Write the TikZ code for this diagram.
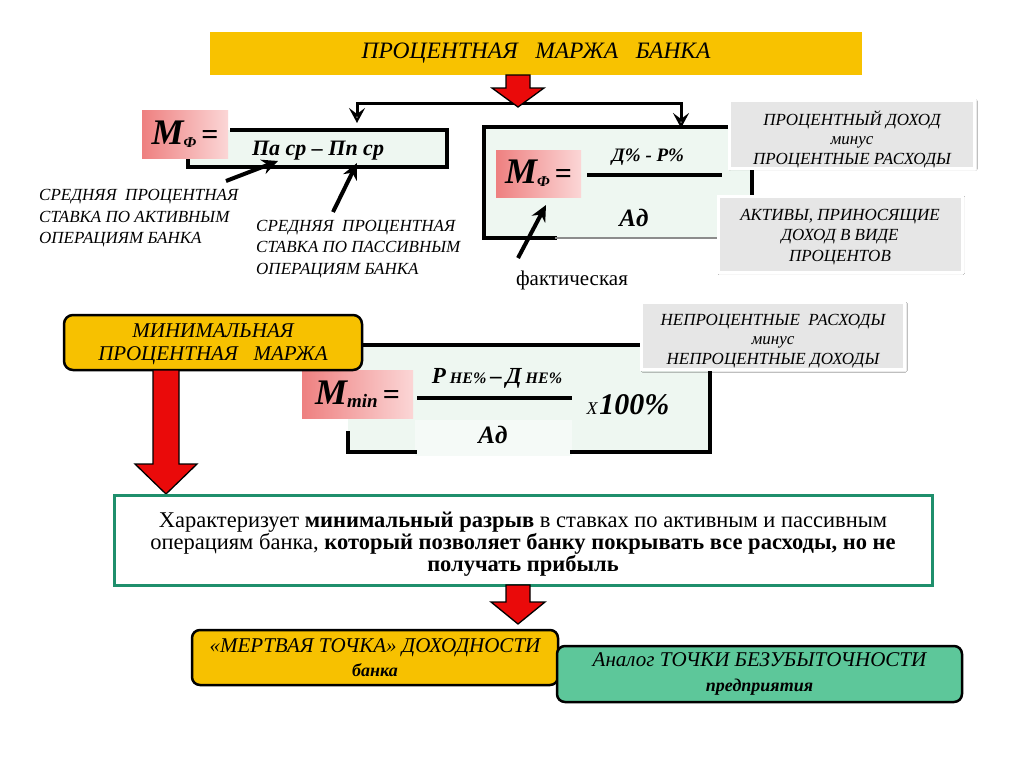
\documentclass[tikz,border=0pt]{standalone}
\usepackage{fontspec}
\setmainfont{Liberation Serif}
\usetikzlibrary{arrows.meta,shadows.blur,calc}
\definecolor{ttl}{HTML}{F8C200}
\definecolor{org}{HTML}{F7C100}
\definecolor{mint}{HTML}{5DC79A}
\definecolor{pale}{HTML}{EEF7F1}
\definecolor{paler}{HTML}{F5FAF7}
\definecolor{tealb}{HTML}{1F8F6C}
\definecolor{pinkL}{HTML}{EE8080}
\definecolor{pinkR}{HTML}{FBD6D6}
\definecolor{arrred}{HTML}{EA0A0A}
\definecolor{grayb}{HTML}{E6E6E6}
\newcommand\fsz[2]{\fontsize{#1}{#2}\selectfont}
% block arrow: x centre, y top, y tip, shaft half, head half, head length
\newcommand\blockarrow[6]{%
  \draw[fill=arrred,draw=black,line width=1.3pt,line join=miter]
    (#1-#4,#2) -- (#1+#4,#2) -- (#1+#4,#3-#6) -- (#1+#5,#3-#6) -- (#1,#3)
    -- (#1-#5,#3-#6) -- (#1-#4,#3-#6) -- cycle;}
\tikzset{
  frame/.style={line width=3.5pt,line cap=rect},
  pinklabel/.style={left color=pinkL,right color=pinkR,inner sep=0pt},
  graybox/.style={fill=grayb,draw=white,line width=3pt,
    blur shadow={shadow xshift=1pt,shadow yshift=-1pt,shadow blur steps=6,shadow opacity=35},
    inner sep=0pt},
  graytext/.style={align=center,inner sep=0pt,font=\fsz{17}{19.5}\itshape},
  note/.style={inner sep=0pt,align=left,font=\fsz{17}{21.5}\itshape},
  pointer/.style={line width=4pt,-{Stealth[length=16pt,width=15pt]}},
  bracket/.style={line width=3pt},
  vtip/.style={line width=3pt,-{Stealth[length=15pt,width=16pt,inset=6pt,open,fill=white,line width=2.5pt]}},
  fbold/.style={inner sep=0pt,font=\bfseries\itshape}
}
\begin{document}
\begin{tikzpicture}[x=1pt,y=-1pt]
\useasboundingbox (0,0) rectangle (1024,768);
\fill[white] (0,0) rectangle (1024,768);

% title
\node[fill=ttl,minimum width=652,minimum height=43,inner sep=0pt,
      font=\fsz{23.5}{25}\itshape] (title) at (536,53.5) {ПРОЦЕНТНАЯ~~~МАРЖА~~~БАНКА};

% bracket
\coordinate (bl) at (357,103);
\coordinate (brr) at (681,103);
\coordinate (bla) at (357,123);
\coordinate (bra) at (681,128);
\draw[bracket] (bla) ++(0,-12) -- (bl) -- (brr) -- ++(0,12);
\draw[vtip] (bl) -- (bla);
\draw[vtip] (brr) -- (bra);
\blockarrow{518}{75}{107}{12}{26}{19}

% left formula box
\fill[pale] (188,130) rectangle (447,167);
\draw[frame] (232,130) -- (447,130) -- (447,167) -- (188,167) -- (188,161);
\node[pinklabel,minimum width=86,minimum height=48] (lm) at (185,134)
  {{\fsz{36}{38}\bfseries\itshape M}\raisebox{-3pt}{\fsz{15}{15}\bfseries\itshape Ф}{\fsz{30}{32}\bfseries\,=}};
\node[fbold,font=\fsz{22}{24}\bfseries\itshape] (lnum) at (318,151) {Па ср – Пп ср};

\node[note,anchor=west] (t1) at (39,218.5) {СРЕДНЯЯ~~ПРОЦЕНТНАЯ\\СТАВКА ПО АКТИВНЫМ\\ОПЕРАЦИЯМ БАНКА};
\node[note,anchor=west] (t2) at (256,249) {СРЕДНЯЯ~~ПРОЦЕНТНАЯ\\СТАВКА ПО ПАССИВНЫМ\\ОПЕРАЦИЯМ БАНКА};
\coordinate (p1s) at (226,181);
\coordinate (p1e) at (278,161);
\coordinate (p2s) at (333,212);
\coordinate (p2e) at (357,163);
\draw[pointer] (p1s) -- (p1e);
\draw[pointer] (p2s) -- (p2e);

% right formula box
\fill[pale] (484,127) rectangle (752,238);
\draw[frame] (484,238) -- (484,127) -- (752,127) -- (752,238);
\draw[frame] (484,238) -- (555,238);
\draw[line width=2pt,black!45] (555,238) -- (752,238);
\node[pinklabel,minimum width=85,minimum height=47] (rm) at (538.5,173.5)
  {{\fsz{36}{38}\bfseries\itshape M}\raisebox{-3pt}{\fsz{15}{15}\bfseries\itshape Ф}{\fsz{30}{32}\bfseries\,=}};
\node[fbold,font=\fsz{19}{21}\bfseries\itshape] (rnum) at (648,157) {Д\% - Р\%};
\coordinate (rf1) at (587,175);
\coordinate (rf2) at (722,175);
\draw[line width=3.5pt] (rf1) -- (rf2);
\node[fbold,font=\fsz{25}{26}\bfseries\itshape] (rden) at (634,218) {Ад};
\node[inner sep=0pt,font=\fsz{21}{22}] (fact) at (572,280) {фактическая};
\coordinate (p3s) at (518,258);
\coordinate (p3e) at (546,205);
\draw[pointer] (p3s) -- (p3e);

% gray boxes
\node[graybox,minimum width=245,minimum height=68] (ga) at (852,134) {};
\node[graytext] (gat) at (852,139) {ПРОЦЕНТНЫЙ ДОХОД\\минус\\ПРОЦЕНТНЫЕ РАСХОДЫ};
\node[graybox,minimum width=244,minimum height=76] (gb) at (840,234) {};
\node[graytext,font=\fsz{17}{20.5}\itshape] (gbt) at (840,237) {АКТИВЫ, ПРИНОСЯЩИЕ\\ДОХОД В ВИДЕ\\ПРОЦЕНТОВ};

% minimal margin formula box
\fill[pale] (348,345) rectangle (710,452);
\fill[paler] (415,420) rectangle (572,456);
\draw[frame] (348,433) -- (348,452) -- (415,452);
\draw[frame] (572,452) -- (710,452) -- (710,345) -- (348,345);
\node[graybox,minimum width=263,minimum height=67] (gc) at (773,336) {};
\node[graytext] (gct) at (773,341) {НЕПРОЦЕНТНЫЕ~~РАСХОДЫ\\минус\\НЕПРОЦЕНТНЫЕ ДОХОДЫ};
\node[pinklabel,minimum width=111,minimum height=48] (mm) at (357.5,394)
  {{\fsz{36}{38}\bfseries\itshape M}\raisebox{-3pt}{\fsz{19}{19}\bfseries\itshape min}{\fsz{30}{32}\bfseries\,=}};
\node[fbold] (mnum) at (497,378)
  {{\fsz{23}{24}Р}\hspace{4pt}{\fsz{16}{18}НЕ\%}\hspace{4pt}{\fsz{23}{24}–}\hspace{4pt}{\fsz{23}{24}Д}\hspace{4pt}{\fsz{16}{18}НЕ\%}};
\coordinate (mf1) at (417,398);
\coordinate (mf2) at (572,398);
\draw[line width=3.5pt] (mf1) -- (mf2);
\node[fbold,font=\fsz{25}{26}\bfseries\itshape] (mden) at (493,435) {Ад};
\node[inner sep=0pt] (mx) at (628,405) {{\fsz{18}{18}\itshape Х}\,{\fsz{30}{30}\bfseries\itshape 100\%}};

% minimal margin label
\node[fill=org,draw=black,line width=2.5pt,rounded corners=9pt,minimum width=298,minimum height=55,
      inner sep=0pt] (minlab) at (213,342.5) {};
\node[inner sep=0pt,align=center,font=\fsz{21}{23}\itshape] (minlabt) at (213,344)
  {МИНИМАЛЬНАЯ\\ПРОЦЕНТНАЯ~~~МАРЖА};

\blockarrow{166}{370}{494}{13}{31}{30}

% description box
\node[draw=tealb,line width=3pt,fill=white,minimum width=818,minimum height=90,inner sep=0pt] (desc) at (523,540) {};
\node[inner sep=0pt,align=center,font=\fsz{22.5}{22}] (desct) at (523,544)
  {Характеризует \textbf{минимальный разрыв} в ставках по активным и пассивным\\
   операциям банка, \textbf{который позволяет банку покрывать все расходы, но не}\\
   \textbf{получать прибыль}};

\blockarrow{518}{585}{624}{12}{27}{22}

% bottom boxes
\node[fill=org,draw=black,line width=2.5pt,rounded corners=8pt,minimum width=366,minimum height=55,
      inner sep=0pt,align=center,font=\fsz{21}{24}\itshape] (dead) at (375,657.5)
  {«МЕРТВАЯ ТОЧКА» ДОХОДНОСТИ\\{\fsz{18}{18}\bfseries\itshape банка}};
\node[fill=mint,draw=black,line width=2.5pt,rounded corners=8pt,minimum width=405,minimum height=56,
      inner sep=0pt,align=center,font=\fsz{21}{25}\itshape] (anal) at (759.5,674)
  {Аналог ТОЧКИ БЕЗУБЫТОЧНОСТИ\\{\fsz{18}{18}\bfseries\itshape предприятия}};
\end{tikzpicture}
\end{document}
